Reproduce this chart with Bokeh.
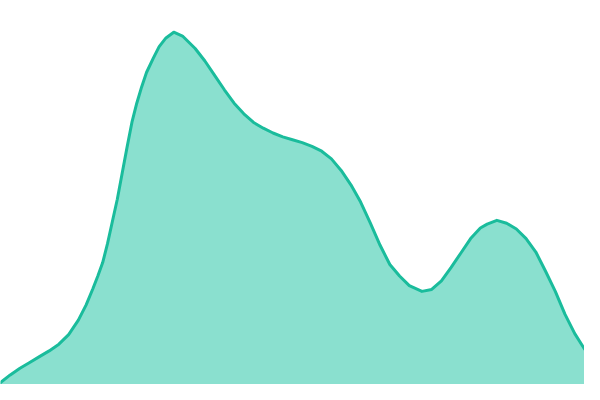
from bokeh.plotting import figure
from bokeh.models import Range1d
from bokeh.embed import file_html
from bokeh.resources import INLINE

# x positions and values (height)
x_vals = [0, 10, 20, 30, 40, 50, 60, 70, 80, 88, 95, 100, 105, 110, 115, 120, 125,
          130, 135, 140, 145, 150, 157, 163, 170, 178, 187, 193, 200, 210, 220, 230,
          240, 250, 260, 270, 280, 290, 300, 310, 320, 330, 340, 350, 360, 370, 380,
          390, 400, 410, 420, 433, 443, 453, 463, 473, 483, 493, 500, 510, 520, 530,
          540, 550, 560, 570, 580, 590, 600]
y_vals = [2, 10, 17, 23, 29, 35, 42, 52, 67, 83, 100, 113, 127, 147, 170, 193, 220,
          247, 273, 293, 310, 325, 340, 352, 361, 367, 363, 357, 350, 337, 322, 307,
          293, 282, 273, 267, 262, 258, 255, 252, 248, 243, 235, 223, 208, 190, 168,
          145, 125, 113, 103, 97, 99, 108, 122, 137, 152, 163, 167, 171, 168, 162,
          152, 138, 118, 97, 73, 53, 37]

p = figure(width=584, height=384, output_backend="svg", toolbar_location=None,
           x_range=Range1d(0, 600), y_range=Range1d(0, 400),
           min_border=0, border_fill_color="white", background_fill_color="white")
p.axis.visible = False
p.grid.visible = False
p.outline_line_color = None

p.varea(x=x_vals, y1=[0] * len(x_vals), y2=y_vals, fill_color="#8ae0cf")
p.line(x=x_vals, y=y_vals, line_color="#1abc9c", line_width=3,
       line_join="round", line_cap="round")

open("out.html", "w").write(file_html(p, INLINE))
